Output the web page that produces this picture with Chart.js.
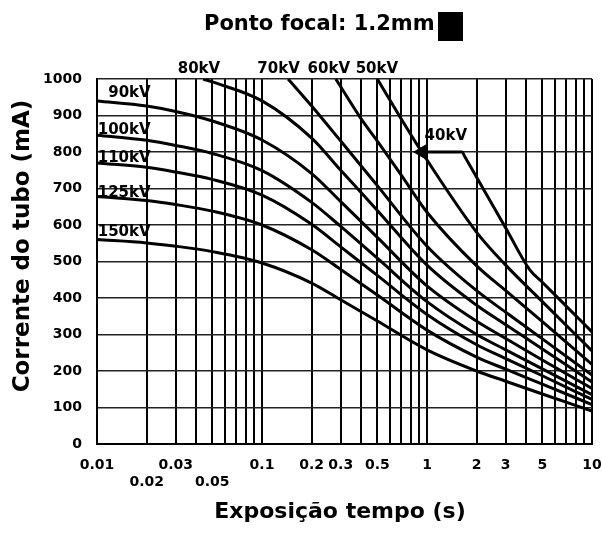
<!DOCTYPE html>
<html>
<head>
<meta charset="utf-8">
<script src="https://cdn.jsdelivr.net/npm/chart.js@4/dist/chart.umd.min.js"></script>
<style>
  html, body { margin: 0; padding: 0; background: #fff; }
  #wrap { width: 602px; height: 535px; }
</style>
</head>
<body>
<div id="wrap"><canvas id="tubeChart" width="602" height="535"></canvas></div>
<script>
// exposure time (s) and tube current (mA)
const timesFull = [0.01, 0.02, 0.03, 0.05, 0.1, 0.2, 0.3, 0.5, 1, 2, 3, 5, 10];
const ma150 = [560, 551, 542, 527, 496, 441, 395, 337, 258, 200, 172, 137, 90];
const ma125 = [678, 667, 656, 638, 600, 532, 478, 408, 312, 238, 205, 164, 108];
const ma110 = [770, 758, 745, 725, 682, 602, 540, 462, 355, 272, 234, 187, 122];
const ma100 = [846, 832, 818, 796, 749, 662, 596, 509, 390, 300, 258, 206, 135];
const ma90 = [940, 926, 911, 885, 833, 741, 664, 566, 433, 336, 289, 230, 152];

const times80 = [0.044, 0.05, 0.1, 0.2, 0.3, 0.5, 1, 2, 3, 5, 10];
const ma80 = [1000, 992, 940, 838, 750, 640, 490, 380, 327, 260, 170];

const times70 = [0.144, 0.2, 0.3, 0.5, 1, 2, 3, 5, 10];
const ma70 = [1000, 926, 830, 708, 542, 420, 361, 288, 189];

const times60 = [0.28, 0.4, 0.5, 0.7, 1, 2, 3, 5, 10];
const ma60 = [1000, 890, 830, 736, 635, 488, 420, 335, 218];

const times50 = [0.5, 0.7, 0.93, 2, 3, 5, 10];
const ma50 = [1000, 890, 800, 580, 490, 390, 255];

// 40kV: flat 800 mA arrow part, then the falling branch
const times40 = [0.93, 1.63, 1.7, 3, 4.2, 5, 7, 10];
const ma40 = [800, 800, 786, 592, 477, 443, 377, 307];

// x grid lines and tick labels
const xGridValues = [0.01, 0.02, 0.03, 0.04, 0.05, 0.06, 0.07, 0.08, 0.09,
                     0.1, 0.2, 0.3, 0.4, 0.5, 0.6, 0.7, 0.8, 0.9,
                     1, 2, 3, 4, 5, 6, 7, 8, 9, 10];
const xLabelsTop = ['0.01', '0.03', '0.1', '0.2', '0.3', '0.5', '1', '2', '3', '5', '10'];
const xLabelsLow = ['0.02', '0.05'];

// curve names and where they sit (time, mA)
const curveLabels = ['90kV', '100kV', '110kV', '125kV', '150kV', '80kV', '70kV', '60kV', '50kV', '40kV'];
const labelTimes = [0.0117, 0.0101, 0.0101, 0.0101, 0.0101, 0.0415, 0.126, 0.254, 0.497, 1.30];
const labelCurrents = [962, 860, 784, 688, 581, 1027, 1027, 1027, 1027, 844];

const BOLD = '"DejaVu Sans", sans-serif';

function toPoints(times, values) {
    return times.map((t, i) => ({ x: t, y: values[i] }));
}

function curve(times, values, extra) {
    return Object.assign({
        data: toPoints(times, values),
        borderColor: '#000',
        borderWidth: 3,
        pointRadius: 0,
        cubicInterpolationMode: 'monotone',
        fill: false
    }, extra || {});
}

const textPlugin = {
    id: 'chartText',
    afterDraw(chart) {
        const ctx = chart.ctx;
        const xs = chart.scales.x;
        const ys = chart.scales.y;
        ctx.save();
        ctx.fillStyle = '#000';

        // title + the black mark after it
        ctx.font = 'bold 21px ' + BOLD;
        ctx.textAlign = 'left';
        ctx.textBaseline = 'middle';
        ctx.fillText('Ponto focal: 1.2mm', 204, 25);
        ctx.fillRect(438, 12, 25, 29);

        // axis titles
        ctx.font = 'bold 22px ' + BOLD;
        ctx.textAlign = 'center';
        ctx.fillText('Exposição tempo (s)', 340, 512);

        ctx.save();
        ctx.translate(23, 246);
        ctx.rotate(-Math.PI / 2);
        ctx.font = 'bold 23px ' + BOLD;
        ctx.fillText('Corrente do tubo (mA)', 0, 0);
        ctx.restore();

        // kV labels
        ctx.font = 'bold 15px ' + BOLD;
        curveLabels.forEach((name, i) => {
            const px = xs.getPixelForValue(labelTimes[i]);
            const py = ys.getPixelForValue(labelCurrents[i]);
            ctx.textAlign = i < 5 ? 'left' : 'center';
            ctx.fillText(name, px, py);
        });
        ctx.restore();
    }
};

function sameValue(a, b) {
    return Math.abs(a - b) < 1e-9;
}

const ctx = document.getElementById('tubeChart').getContext('2d');
new Chart(ctx, {
    type: 'line',
    data: {
        datasets: [
            curve(timesFull, ma150),
            curve(timesFull, ma125),
            curve(timesFull, ma110),
            curve(timesFull, ma100),
            curve(timesFull, ma90),
            curve(times80, ma80),
            curve(times70, ma70),
            curve(times60, ma60),
            curve(times50, ma50),
            curve(times40, ma40, {
                pointRadius: times40.map((t, i) => i === 0 ? 6 : 0),
                pointStyle: 'triangle',
                rotation: -90,
                pointBackgroundColor: '#000',
                pointBorderColor: '#000'
            })
        ]
    },
    options: {
        responsive: false,
        animation: false,
        devicePixelRatio: 1,
        layout: { padding: { top: 79, right: 10, left: 0, bottom: 0 } },
        plugins: {
            legend: { display: false },
            tooltip: { enabled: false }
        },
        scales: {
            x: {
                type: 'logarithmic',
                min: 0.01,
                max: 10,
                afterFit: s => {
                    s.height = 91;
                    s.paddingLeft = 0;
                    s.paddingRight = 0;
                },
                afterBuildTicks: s => { s.ticks = xGridValues.map(v => ({ value: v })); },
                grid: { color: '#000', lineWidth: 2, drawTicks: false },
                border: { color: '#000', width: 2 },
                ticks: {
                    autoSkip: false,
                    maxRotation: 0,
                    padding: 13,
                    color: '#000',
                    font: { family: BOLD, size: 14, weight: 'bold', lineHeight: 1.2 },
                    callback: v => {
                        const top = xLabelsTop.find(l => sameValue(parseFloat(l), v));
                        if (top) return top;
                        const low = xLabelsLow.find(l => sameValue(parseFloat(l), v));
                        if (low) return ['', low];
                        return '';
                    }
                }
            },
            y: {
                type: 'linear',
                min: 0,
                max: 1000,
                afterFit: s => { s.width = 97; },
                grid: { color: '#222', lineWidth: 1.5, drawTicks: false },
                border: { color: '#000', width: 2 },
                ticks: {
                    stepSize: 100,
                    padding: 15,
                    color: '#000',
                    font: { family: BOLD, size: 14, weight: 'bold' },
                    callback: v => String(v)
                }
            }
        }
    },
    plugins: [textPlugin]
});
</script>
</body>
</html>
